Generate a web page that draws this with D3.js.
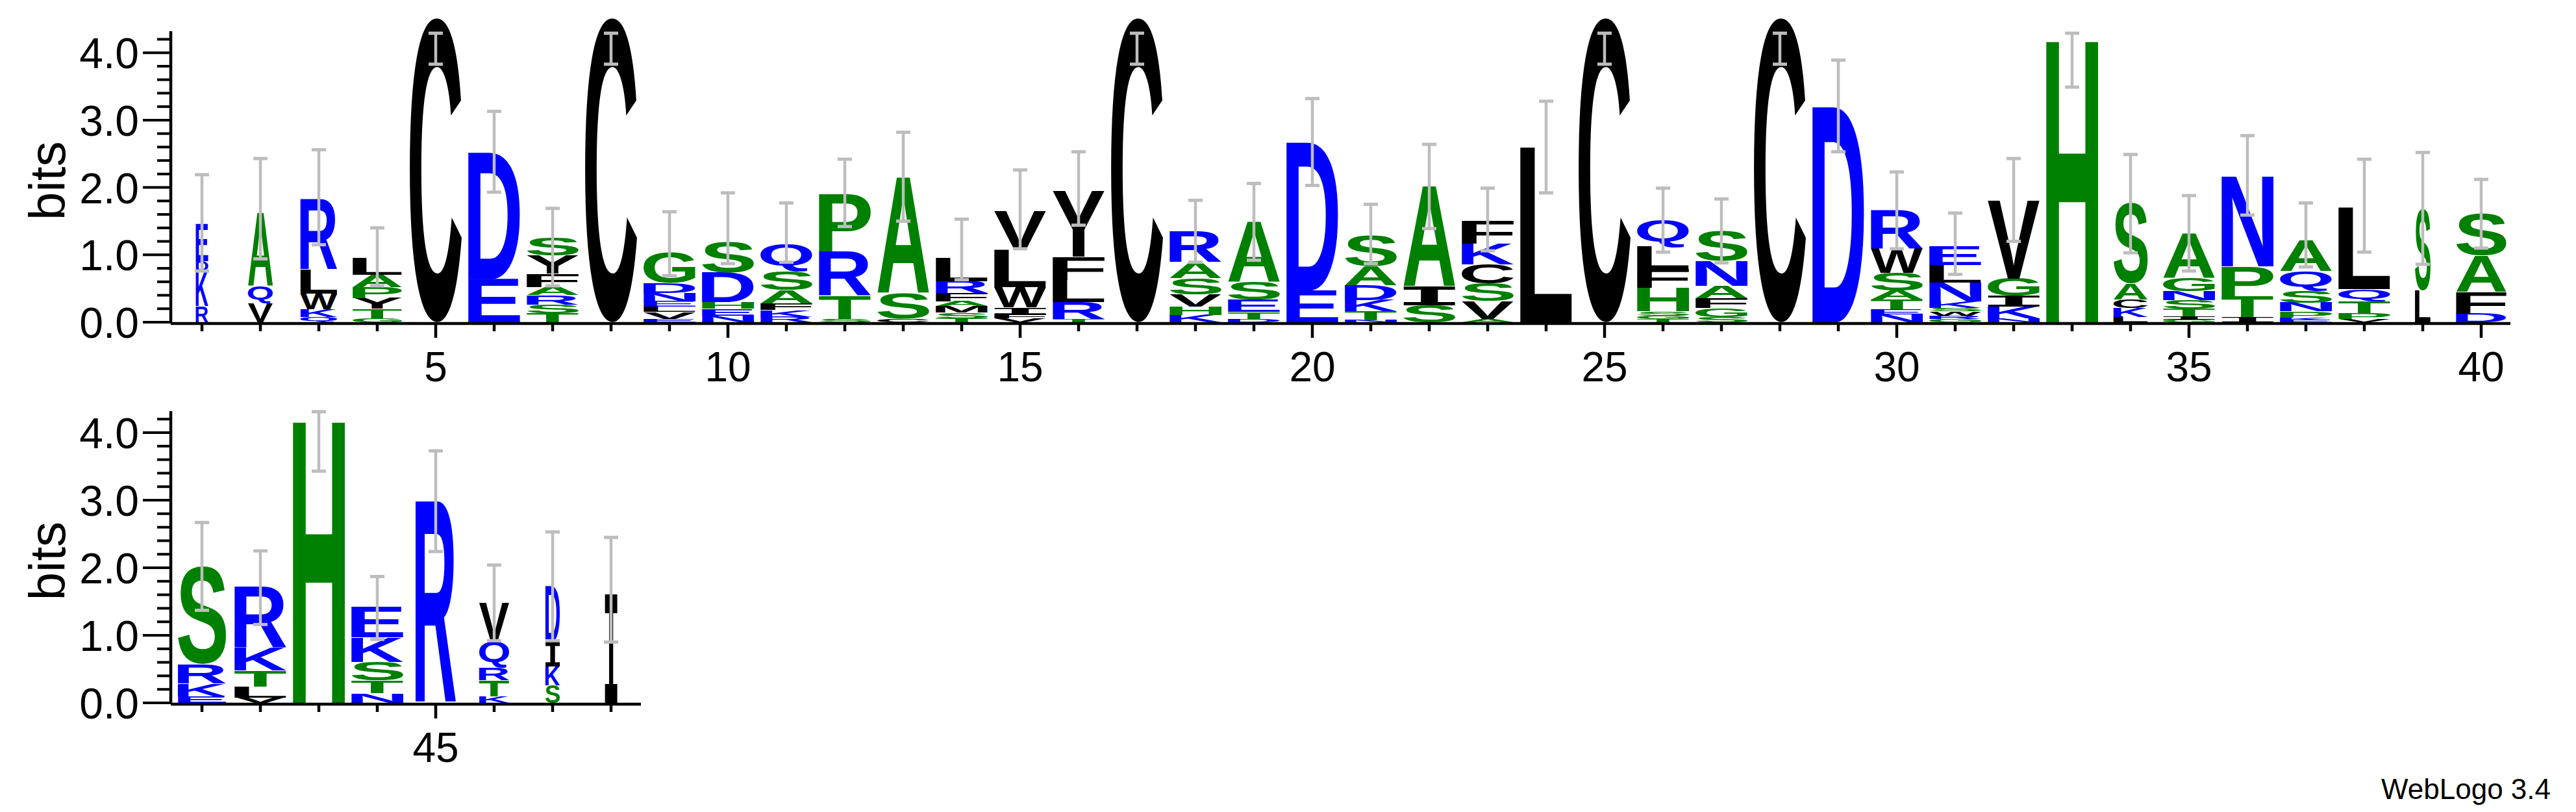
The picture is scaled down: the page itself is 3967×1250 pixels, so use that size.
<!DOCTYPE html>
<html><head><meta charset="utf-8">
<script src="https://cdn.jsdelivr.net/npm/d3@7"></script>
<style>html,body{margin:0;padding:0;background:#fff}</style>
</head><body>
<svg id="c" width="3967" height="1250"></svg>
<script>
// letters per position, bottom to top
const stackLetters = [
 ["R","K","D","E"],["V","Q","A"],["Q","K","W","L","R"],["G","T","Y","P","A","L"],["C"],
 ["E","D"],["T","S","R","A","F","Y","S"],["C"],["E","V","L","E","N","D","G"],["N","E","H","D","S"],
 ["R","K","F","A","S","Q"],["S","T","R","P"],["C","S","A"],["T","S","M","A","F","R","L"],["V","F","I","W","L","V"],
 ["T","R","L","F","Y"],["C"],["K","H","V","S","A","R"],["D","T","E","S","A"],["E","D"],
 ["N","T","K","D","A","S"],["S","I","A"],["A","V","S","C","K","F"],["L"],["C"],
 ["T","G","S","H","F","L","Q"],["S","G","F","A","N","S"],["C"],["D"],["N","E","T","A","S","W","R"],
 ["G","R","W","S","K","N","L","E"],["N","K","I","G","V"],["H"],["L","K","C","A","S"],["G","I","T","S","N","G","A"],
 ["I","T","P","N"],["E","K","P","N","S","Q","A"],["V","P","T","Q","L"],["L","S"],["D","F","A","S"],
 ["E","K","R","S"],["V","L","T","K","R"],["H"],["N","T","S","K","E"],["R"],["K","T","R","Q","V"],["S","K","I","D"],["I"]
];
const stackBits = [
 [0.24,0.52,0.15,0.55],[0.28,0.26,1.08],[0.08,0.11,0.23,0.36,1.05],[0.06,0.14,0.16,0.16,0.18,0.24],[4.52],
 [0.64,1.88],[0.13,0.13,0.14,0.12,0.2,0.27,0.27],[4.52],[0.05,0.1,0.08,0.08,0.12,0.15,0.46],[0.1,0.1,0.1,0.44,0.46],
 [0.08,0.1,0.1,0.2,0.28,0.4],[0.05,0.34,0.66,0.86],[0.05,0.38,1.72],[0.06,0.08,0.1,0.07,0.12,0.18,0.34],[0.06,0.06,0.1,0.3,0.55,0.58],
 [0.05,0.25,0.33,0.34,0.98],[4.52],[0.11,0.12,0.18,0.24,0.24,0.46],[0.05,0.1,0.18,0.26,0.89],[0.47,2.2],
 [0.03,0.13,0.17,0.22,0.28,0.46],[0.25,0.28,1.49],[0.05,0.26,0.26,0.29,0.31,0.33],[2.6],[4.52],
 [0.05,0.05,0.06,0.35,0.28,0.33,0.4],[0.08,0.13,0.15,0.18,0.37,0.44],[4.52],[3.2],[0.12,0.07,0.15,0.13,0.26,0.37,0.57],
 [0.05,0.05,0.06,0.05,0.1,0.28,0.26,0.28],[0.06,0.17,0.16,0.26,1.16],[4.2],[0.08,0.13,0.13,0.24,1.19],[0.04,0.05,0.11,0.13,0.13,0.2,0.66],
 [0.08,0.31,0.44,1.34],[0.03,0.04,0.09,0.13,0.18,0.29,0.46],[0.05,0.08,0.18,0.18,1.21],[0.47,1.21],[0.13,0.32,0.54,0.62],
 [0.1,0.19,0.29,1.45],[0.08,0.16,0.24,0.34,0.9],[4.19],[0.14,0.19,0.28,0.36,0.45],[2.99],[0.1,0.24,0.18,0.38,0.58],[0.26,0.28,0.36,0.82],[1.6]
];
// fraction of full column width (occupancy)
const colFrac = [0.24,0.48,0.71,0.95,1,1,1,1,1,1,1,1,1,1,1,1,1,1,1,1,
 1,1,1,1,1,1,1,1,1,1,1,1,1,0.66,1,1,1,1,0.3,0.97,
 0.93,1,1,1,0.78,0.58,0.28,0.24];
const errLow = [0.76,0.94,1.15,0.54,3.83,1.93,0.54,3.83,0.69,0.87,0.89,1.42,1.5,0.63,1.09,1.44,3.83,0.89,0.92,2.03,
 0.87,1.39,1.06,1.92,3.83,1.04,0.88,3.83,2.53,1.09,0.71,1.2,3.49,1.03,0.76,1.59,0.82,1.04,0.86,1.1,
 1.37,1.16,3.43,0.94,2.24,0.92,0.92,0.9];
const errHigh = [2.19,2.43,2.56,1.40,4.29,3.13,1.69,4.29,1.64,1.92,1.77,2.42,2.82,1.53,2.26,2.53,4.29,1.81,2.06,3.32,
 1.75,2.64,1.99,3.28,4.29,1.99,1.83,4.29,3.89,2.23,1.62,2.43,4.29,2.49,1.88,2.77,1.77,2.42,2.52,2.12,
 2.67,2.25,4.31,1.87,3.73,2.04,2.53,2.45];
const yTicks = [0,1,2,3,4];
const rows = [{first:1,last:40,base:496,pxPerBit:103.7,xEnd:3866},{first:41,last:48,base:1082,pxPerBit:104,xEnd:987}];

const colorOf = l => "RKDENQ".includes(l) ? "#0000ff" : ("SGHTAP".includes(l) ? "#008000" : "#000000");
const svg = d3.select("#c");
const FONT = "Liberation Sans, Arial, sans-serif";
const fontOf = l => l==="I" ? "DejaVu Sans Mono" : "Liberation Sans";
const cv = document.createElement("canvas").getContext("2d");
const ink = {};
function inkOf(l){ if(!ink[l]){cv.font = `bold 200px '${fontOf(l)}'`; const m=cv.measureText(l); ink[l]={l:-m.actualBoundingBoxLeft,r:m.actualBoundingBoxRight,t:-m.actualBoundingBoxAscent,b:m.actualBoundingBoxDescent};} return ink[l]; }

rows.forEach(row=>{
  const x = d3.scaleLinear().domain([row.first,row.first+1]).range([311,401]);
  const y = d3.scaleLinear().domain([0,4.32]).range([row.base,row.base-4.32*row.pxPerBit]);
  const g = svg.append("g");
  for(let p=row.first;p<=row.last;p++){
    const i=p-1; let cum=0;
    const colW = 80*colFrac[i];
    stackLetters[i].forEach((l,k)=>{
      const h=stackBits[i][k]; const y0=y(cum+h), y1=y(cum); cum+=h;
      const b=inkOf(l); const sx=colW/(b.r-b.l), sy=(y1-y0)/(b.b-b.t);
      g.append("text").text(l).attr("font-family",fontOf(l)).attr("font-weight","bold").attr("font-size",200)
       .attr("fill",colorOf(l))
       .attr("transform",`translate(${x(p)-colW/2},${y0}) scale(${sx},${sy}) translate(${-b.l},${-b.t})`);
    });
    const ex=x(p);
    g.append("line").attr("x1",ex).attr("x2",ex).attr("y1",y(errLow[i])).attr("y2",y(errHigh[i])).attr("stroke","#bdbdbd").attr("stroke-width",4.5);
    [errLow[i],errHigh[i]].forEach(v=>g.append("line").attr("x1",ex-11).attr("x2",ex+11).attr("y1",y(v)).attr("y2",y(v)).attr("stroke","#bdbdbd").attr("stroke-width",5));
  }
  const ya = g.append("g").attr("transform","translate(263,0)");
  ya.append("line").attr("x1",0).attr("x2",0).attr("y1",y(0)+2).attr("y2",y(4.32)).attr("stroke","#000").attr("stroke-width",4.5);
  d3.range(0,22).forEach(j=>{const v=j*0.2; const major=j%5===0;
    ya.append("line").attr("x1",major?-43:-21).attr("x2",0).attr("y1",y(v)).attr("y2",y(v)).attr("stroke","#000").attr("stroke-width",4);});
  yTicks.forEach(v=>ya.append("text").text(v.toFixed(1)).attr("font-family",FONT).attr("font-size",66)
     .attr("text-anchor","end").attr("x",-49).attr("y",y(v)+24));
  g.append("text").text("bits").attr("font-family",FONT).attr("font-size",78).attr("text-anchor","middle")
   .attr("transform",`translate(100,${y(2.1)}) rotate(-90)`);
  g.append("line").attr("x1",263).attr("x2",row.xEnd).attr("y1",row.base+2).attr("y2",row.base+2).attr("stroke","#000").attr("stroke-width",4.5);
  for(let p=row.first;p<=row.last;p++){const major=p%5===0;
    g.append("line").attr("x1",x(p)).attr("x2",x(p)).attr("y1",row.base).attr("y2",row.base+(major?24:14)).attr("stroke","#000").attr("stroke-width",4.5);
    if(major) g.append("text").text(p).attr("font-family",FONT).attr("font-size",64).attr("text-anchor","middle")
      .attr("x",x(p)).attr("y",row.base+91);
  }
});
svg.append("text").text("WebLogo 3.4").attr("x",3928).attr("y",1230).attr("text-anchor","end").attr("font-family",FONT).attr("font-size",44);
</script>
</body></html>
